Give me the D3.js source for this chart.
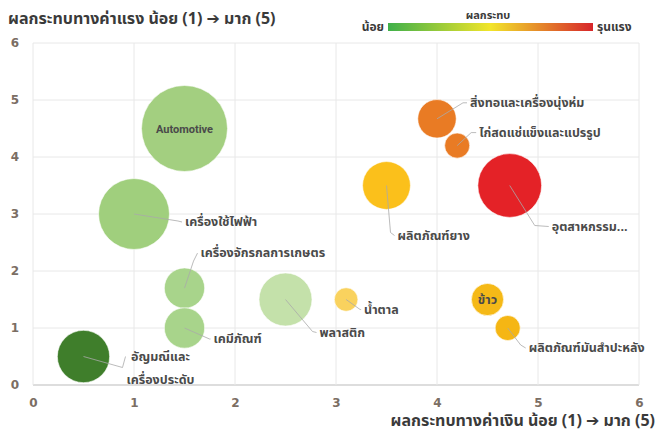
<!DOCTYPE html>
<html>
<head>
<meta charset="utf-8">
<script src="https://cdn.jsdelivr.net/npm/d3@7"></script>
<style>
  body { margin: 0; background: #fff; }
  svg text { font-family: "Noto Sans Thai", Tahoma, "Noto Sans", "DejaVu Sans", sans-serif; }
</style>
</head>
<body>
<div id="chart"></div>
<script>
// industries: x = currency impact, y = wage impact, size = bubble size
var industries = ['Automotive', 'เครื่องใช้ไฟฟ้า', 'เครื่องจักรกลการเกษตร', 'เคมีภัณฑ์',
  'อัญมณีและ|เครื่องประดับ', 'พลาสติก', 'น้ำตาล', 'ข้าว', 'ผลิตภัณฑ์มันสำปะหลัง',
  'ผลิตภัณฑ์ยาง', 'สิ่งทอและเครื่องนุ่งห่ม', 'ไก่สดแช่แข็งและแปรรูป', 'อุตสาหกรรม...'];
var xVals = [1.5, 1.0, 1.5, 1.5, 0.5, 2.5, 3.1, 4.5, 4.7, 3.5, 4.0, 4.2, 4.72];
var yVals = [4.5, 3.0, 1.7, 1.0, 0.5, 1.5, 1.5, 1.5, 1.0, 3.5, 4.67, 4.2, 3.5];
var sizes = [100, 68, 22, 22, 37, 38, 7.5, 14, 8.5, 31, 20, 8.5, 55];
var colors = ['#a3cf80', '#a0cf7d', '#a8d48b', '#a8d48b', '#3f7e2b', '#c4e1aa', '#f9d25e',
  '#f5b917', '#f5b614', '#fbc01b', '#e97b24', '#e97b24', '#e42227'];
var ticks = [0, 1, 2, 3, 4, 5, 6];

// label layout: [elbow dx, elbow dy, text dx, text dy] relative to bubble centre, null = inside
var labelPos = [null, [44, 7, 51, 12], [9, -27, 16, -31], [25, 11, 29, 15], [39, 11, 77, 4],
  [27, 32, 34, 37], [14, 10, 18, 14], null, [13, 17, 21, 24], [4, 47, 11, 54],
  [26, -16, 33, -12], [14, -13, 22, -9], [25, 40, 42, 45]];

var W = 658, H = 443;
var svg = d3.select('#chart').append('svg').attr('width', W).attr('height', H);

var x = d3.scaleLinear().domain([0, 6]).range([33, 639]);
var y = d3.scaleLinear().domain([0, 6]).range([385, 43]);
var r = d3.scaleSqrt().domain([0, 100]).range([0, 43]);

// grid
svg.append('g').selectAll('line.h').data(ticks).enter().append('line')
  .attr('x1', x(0)).attr('x2', x(6)).attr('y1', d => y(d)).attr('y2', d => y(d))
  .attr('stroke', d => d === 0 ? '#d2d2d2' : '#e8e8e8').attr('stroke-width', d => d === 0 ? 1.5 : 1);
svg.append('g').selectAll('line.v').data(ticks).enter().append('line')
  .attr('y1', y(0)).attr('y2', y(6)).attr('x1', d => x(d)).attr('x2', d => x(d))
  .attr('stroke', '#e8e8e8');

var xAxis = svg.append('g').attr('transform', 'translate(0,' + (y(0) + 13) + ')')
  .call(d3.axisBottom(x).tickValues(ticks).tickFormat(d3.format('d')).tickSize(0).tickPadding(0));
var yAxis = svg.append('g').attr('transform', 'translate(' + (x(0) - 14) + ',0)')
  .call(d3.axisLeft(y).tickValues(ticks).tickFormat(d3.format('d')).tickSize(0).tickPadding(0));
[xAxis, yAxis].forEach(function(a) {
  a.select('.domain').remove();
  a.selectAll('text').attr('fill', '#7b6e64').attr('font-size', 12).attr('font-weight', 'bold')
    .style('font-family', 'Tahoma, "DejaVu Sans", sans-serif');
});
xAxis.selectAll('text').attr('dy', '0.71em');

var data = industries.map(function(name, i) {
  return { name: name, x: xVals[i], y: yVals[i], size: sizes[i], color: colors[i], lp: labelPos[i] };
});

// bubbles, largest first
var bubbles = data.slice().sort((a, b) => b.size - a.size);
svg.append('g').selectAll('circle').data(bubbles).enter().append('circle')
  .attr('cx', d => x(d.x)).attr('cy', d => y(d.y)).attr('r', d => r(d.size))
  .attr('fill', d => d.color).attr('stroke', '#fff').attr('stroke-width', 0.6);

// leader lines and labels
var lab = svg.append('g');
data.forEach(function(d) {
  var cx = x(d.x), cy = y(d.y);
  if (!d.lp) {
    lab.append('text').attr('x', cx).attr('y', cy + 4).attr('text-anchor', 'middle')
      .attr('font-size', d.name === 'Automotive' ? 11 : 12.5).attr('font-weight', 'bold')
      .attr('fill', '#4a4a4a')
      .style('font-family', d.name === 'Automotive' ? 'Roboto, sans-serif' : null)
      .text(d.name);
    return;
  }
  var p = d.lp;
  var parts = d.name.split('|');
  var endX = parts.length > 1 ? p[0] + 3 : p[2] - 3;
  lab.append('polyline')
    .attr('points', [[cx, cy], [cx + p[0], cy + p[1]], [cx + endX, cy + p[3] - 4]].join(' '))
    .attr('fill', 'none').attr('stroke', '#a9a9a9').attr('stroke-width', 0.8);
  var t = lab.append('text').attr('font-size', 12.5).attr('font-weight', 'bold').attr('fill', '#4a4a4a');
  if (parts.length > 1) {
    t.attr('text-anchor', 'middle');
    parts.forEach(function(s, k) {
      t.append('tspan').attr('x', cx + p[2]).attr('y', cy + p[3] + k * 23).text(s);
    });
  } else {
    t.attr('x', cx + p[2]).attr('y', cy + p[3]).text(d.name);
  }
});

// axis titles
svg.append('text').attr('x', 8).attr('y', 24).attr('font-size', 16).attr('font-weight', 'bold')
  .attr('fill', '#3a3a3a').text('ผลกระทบทางค่าแรง น้อย (1) ➔ มาก (5)');
svg.append('text').attr('x', 655).attr('y', 426).attr('text-anchor', 'end').attr('font-size', 16)
  .attr('font-weight', 'bold').attr('fill', '#3a3a3a').text('ผลกระทบทางค่าเงิน น้อย (1) ➔ มาก (5)');

// colour legend
var grad = svg.append('defs').append('linearGradient').attr('id', 'impact');
[['0%', '#3fb04a'], ['50%', '#f2e52a'], ['100%', '#d7252a']].forEach(function(s) {
  grad.append('stop').attr('offset', s[0]).attr('stop-color', s[1]);
});
svg.append('rect').attr('x', 388).attr('y', 23).attr('width', 205).attr('height', 8)
  .attr('fill', 'url(#impact)');
svg.append('text').attr('x', 384).attr('y', 31).attr('text-anchor', 'end').attr('font-size', 12)
  .attr('font-weight', 'bold').attr('fill', '#3a3a3a').text('น้อย');
svg.append('text').attr('x', 597).attr('y', 31).attr('font-size', 12)
  .attr('font-weight', 'bold').attr('fill', '#3a3a3a').text('รุนแรง');
svg.append('text').attr('x', 488).attr('y', 19).attr('text-anchor', 'middle').attr('font-size', 11)
  .attr('font-weight', 'bold').attr('fill', '#3a3a3a').text('ผลกระทบ');
</script>
</body>
</html>
